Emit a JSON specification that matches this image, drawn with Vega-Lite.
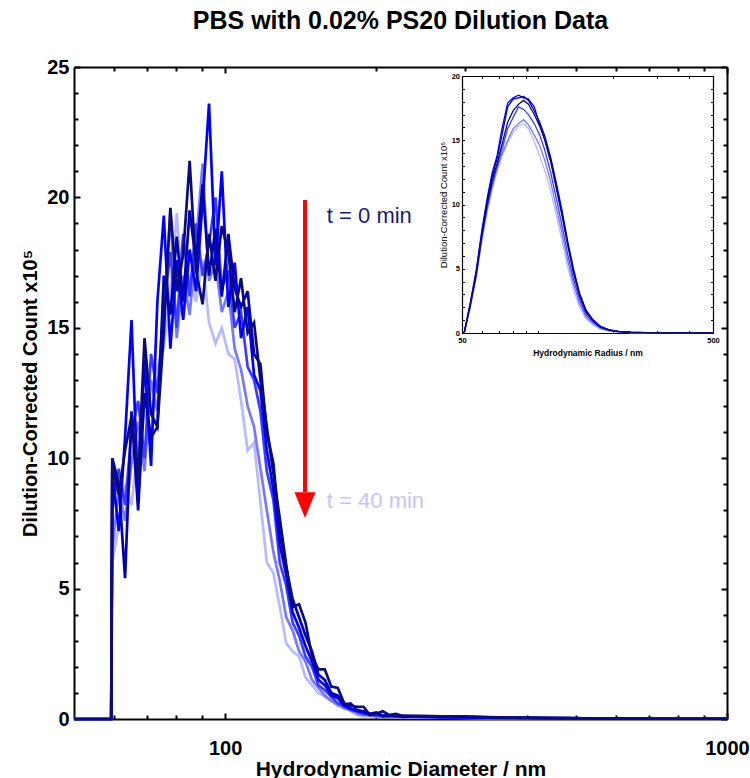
{
"$schema": "https://vega.github.io/schema/vega-lite/v6.json",
"width": 653, "height": 652,
"autosize": {"type": "none"},
"padding": {"left": 74, "top": 67, "right": 23, "bottom": 59},
"config": {"view": {"stroke": null}, "font": "Liberation Sans",
 "axis": {"grid": false, "domainColor": "#000000", "tickColor": "#000000", "labelColor": "#000000", "titleColor": "#000000", "labelFont": "Liberation Sans", "titleFont": "Liberation Sans"}},
"title": {"text": "PBS with 0.02% PS20 Dilution Data", "fontSize": 25, "font": "Liberation Sans", "fontWeight": "bold", "color": "#000000", "offset": 23, "anchor": "middle"},
"datasets": {
"main": [
{"s":"t40","d":50,"v":0},{"s":"t40","d":59.3,"v":0},{"s":"t40","d":59.6,"v":6.0},{"s":"t40","d":61.4,"v":7.4},{"s":"t40","d":63.2,"v":9.0},{"s":"t40","d":65.1,"v":8.2},{"s":"t40","d":67.1,"v":10.5},{"s":"t40","d":69.1,"v":11.8},{"s":"t40","d":71.2,"v":10.8},{"s":"t40","d":73.3,"v":13.5},{"s":"t40","d":75.5,"v":14.2},{"s":"t40","d":77.8,"v":16.3},{"s":"t40","d":80.1,"v":19.4},{"s":"t40","d":82.5,"v":15.8},{"s":"t40","d":85.0,"v":17.0},{"s":"t40","d":87.5,"v":16.0},{"s":"t40","d":90.2,"v":17.6},{"s":"t40","d":92.9,"v":15.2},{"s":"t40","d":95.7,"v":14.4},{"s":"t40","d":98.5,"v":15.0},{"s":"t40","d":101.5,"v":14.0},{"s":"t40","d":104.5,"v":13.8},{"s":"t40","d":107.6,"v":12.2},{"s":"t40","d":110.9,"v":10.3},{"s":"t40","d":114.2,"v":10.6},{"s":"t40","d":117.6,"v":8.3},{"s":"t40","d":121.1,"v":6.0},{"s":"t40","d":124.8,"v":5.6},{"s":"t40","d":128.5,"v":4.3},{"s":"t40","d":132.4,"v":2.9},{"s":"t40","d":136.3,"v":2.6},{"s":"t40","d":140.4,"v":2.4},{"s":"t40","d":144.6,"v":1.6},{"s":"t40","d":149.0,"v":1.3},{"s":"t40","d":153.4,"v":1.0},{"s":"t40","d":158.0,"v":0.86},{"s":"t40","d":162.8,"v":0.7},{"s":"t40","d":167.7,"v":0.5},{"s":"t40","d":172.7,"v":0.47},{"s":"t40","d":177.9,"v":0.3},{"s":"t40","d":183.2,"v":0.15},{"s":"t40","d":188.7,"v":0.1},{"s":"t40","d":194.4,"v":0.12},{"s":"t40","d":200.2,"v":0.08},{"s":"t40","d":206.2,"v":0.1},{"s":"t40","d":212.4,"v":0.07},{"s":"t40","d":218.8,"v":0.08},{"s":"t40","d":225.3,"v":0.06},{"s":"t40","d":245,"v":0.05},{"s":"t40","d":270,"v":0.05},{"s":"t40","d":300,"v":0.04},{"s":"t40","d":335,"v":0.03},{"s":"t40","d":375,"v":0.03},{"s":"t40","d":420,"v":0.02},{"s":"t40","d":480,"v":0.02},{"s":"t40","d":560,"v":0.01},{"s":"t40","d":660,"v":0.01},{"s":"t40","d":780,"v":0.01},{"s":"t40","d":900,"v":0.01},{"s":"t40","d":1000,"v":0.01},
{"s":"t32","d":50,"v":0},{"s":"t32","d":59.3,"v":0},{"s":"t32","d":59.6,"v":6.5},{"s":"t32","d":61.4,"v":8.8},{"s":"t32","d":63.2,"v":7.6},{"s":"t32","d":65.1,"v":9.8},{"s":"t32","d":67.1,"v":11.4},{"s":"t32","d":69.1,"v":9.5},{"s":"t32","d":71.2,"v":13.0},{"s":"t32","d":73.3,"v":11.8},{"s":"t32","d":75.5,"v":15.2},{"s":"t32","d":77.8,"v":19.5},{"s":"t32","d":80.1,"v":14.6},{"s":"t32","d":82.5,"v":17.0},{"s":"t32","d":85.0,"v":15.5},{"s":"t32","d":87.5,"v":18.2},{"s":"t32","d":90.2,"v":21.3},{"s":"t32","d":92.9,"v":16.8},{"s":"t32","d":95.7,"v":17.5},{"s":"t32","d":98.5,"v":15.6},{"s":"t32","d":101.5,"v":16.4},{"s":"t32","d":104.5,"v":14.2},{"s":"t32","d":107.6,"v":13.4},{"s":"t32","d":110.9,"v":12.0},{"s":"t32","d":114.2,"v":11.2},{"s":"t32","d":117.6,"v":9.6},{"s":"t32","d":121.1,"v":8.0},{"s":"t32","d":124.8,"v":6.4},{"s":"t32","d":128.5,"v":5.3},{"s":"t32","d":132.4,"v":3.9},{"s":"t32","d":136.3,"v":3.4},{"s":"t32","d":140.4,"v":2.6},{"s":"t32","d":144.6,"v":2.2},{"s":"t32","d":149.0,"v":1.5},{"s":"t32","d":153.4,"v":1.2},{"s":"t32","d":158.0,"v":0.9},{"s":"t32","d":162.8,"v":0.7},{"s":"t32","d":167.7,"v":0.55},{"s":"t32","d":172.7,"v":0.4},{"s":"t32","d":177.9,"v":0.35},{"s":"t32","d":183.2,"v":0.2},{"s":"t32","d":188.7,"v":0.15},{"s":"t32","d":194.4,"v":0.15},{"s":"t32","d":200.2,"v":0.1},{"s":"t32","d":206.2,"v":0.12},{"s":"t32","d":212.4,"v":0.08},{"s":"t32","d":218.8,"v":0.1},{"s":"t32","d":225.3,"v":0.07},{"s":"t32","d":245,"v":0.06},{"s":"t32","d":270,"v":0.05},{"s":"t32","d":300,"v":0.05},{"s":"t32","d":335,"v":0.04},{"s":"t32","d":375,"v":0.03},{"s":"t32","d":420,"v":0.02},{"s":"t32","d":480,"v":0.02},{"s":"t32","d":560,"v":0.02},{"s":"t32","d":660,"v":0.01},{"s":"t32","d":780,"v":0.01},{"s":"t32","d":900,"v":0.01},{"s":"t32","d":1000,"v":0.01},
{"s":"t24","d":50,"v":0},{"s":"t24","d":59.3,"v":0},{"s":"t24","d":59.6,"v":8.0},{"s":"t24","d":61.4,"v":9.6},{"s":"t24","d":63.2,"v":8.2},{"s":"t24","d":65.1,"v":11.0},{"s":"t24","d":67.1,"v":12.2},{"s":"t24","d":69.1,"v":10.0},{"s":"t24","d":71.2,"v":14.0},{"s":"t24","d":73.3,"v":12.5},{"s":"t24","d":75.5,"v":15.8},{"s":"t24","d":77.8,"v":17.9},{"s":"t24","d":80.1,"v":15.0},{"s":"t24","d":82.5,"v":18.6},{"s":"t24","d":85.0,"v":16.2},{"s":"t24","d":87.5,"v":19.0},{"s":"t24","d":90.2,"v":17.0},{"s":"t24","d":92.9,"v":18.2},{"s":"t24","d":95.7,"v":20.0},{"s":"t24","d":98.5,"v":16.5},{"s":"t24","d":101.5,"v":17.2},{"s":"t24","d":104.5,"v":15.0},{"s":"t24","d":107.6,"v":15.6},{"s":"t24","d":110.9,"v":13.5},{"s":"t24","d":114.2,"v":13.0},{"s":"t24","d":117.6,"v":11.8},{"s":"t24","d":121.1,"v":9.5},{"s":"t24","d":124.8,"v":8.4},{"s":"t24","d":128.5,"v":6.0},{"s":"t24","d":132.4,"v":5.1},{"s":"t24","d":136.3,"v":3.7},{"s":"t24","d":140.4,"v":3.2},{"s":"t24","d":144.6,"v":2.4},{"s":"t24","d":149.0,"v":2.0},{"s":"t24","d":153.4,"v":1.3},{"s":"t24","d":158.0,"v":1.1},{"s":"t24","d":162.8,"v":0.85},{"s":"t24","d":167.7,"v":0.6},{"s":"t24","d":172.7,"v":0.5},{"s":"t24","d":177.9,"v":0.35},{"s":"t24","d":183.2,"v":0.3},{"s":"t24","d":188.7,"v":0.2},{"s":"t24","d":194.4,"v":0.2},{"s":"t24","d":200.2,"v":0.12},{"s":"t24","d":206.2,"v":0.15},{"s":"t24","d":212.4,"v":0.1},{"s":"t24","d":218.8,"v":0.1},{"s":"t24","d":225.3,"v":0.1},{"s":"t24","d":245,"v":0.08},{"s":"t24","d":270,"v":0.06},{"s":"t24","d":300,"v":0.05},{"s":"t24","d":335,"v":0.04},{"s":"t24","d":375,"v":0.03},{"s":"t24","d":420,"v":0.03},{"s":"t24","d":480,"v":0.02},{"s":"t24","d":560,"v":0.02},{"s":"t24","d":660,"v":0.01},{"s":"t24","d":780,"v":0.01},{"s":"t24","d":900,"v":0.01},{"s":"t24","d":1000,"v":0.01},
{"s":"t16","d":50,"v":0},{"s":"t16","d":59.3,"v":0},{"s":"t16","d":59.6,"v":9.5},{"s":"t16","d":61.4,"v":7.2},{"s":"t16","d":63.2,"v":10.8},{"s":"t16","d":65.1,"v":15.3},{"s":"t16","d":67.1,"v":8.4},{"s":"t16","d":69.1,"v":13.8},{"s":"t16","d":71.2,"v":9.7},{"s":"t16","d":73.3,"v":16.0},{"s":"t16","d":75.5,"v":19.3},{"s":"t16","d":77.8,"v":14.2},{"s":"t16","d":80.1,"v":17.6},{"s":"t16","d":82.5,"v":15.3},{"s":"t16","d":85.0,"v":18.0},{"s":"t16","d":87.5,"v":16.4},{"s":"t16","d":90.2,"v":19.8},{"s":"t16","d":92.9,"v":23.6},{"s":"t16","d":95.7,"v":17.4},{"s":"t16","d":98.5,"v":21.0},{"s":"t16","d":101.5,"v":15.8},{"s":"t16","d":104.5,"v":17.5},{"s":"t16","d":107.6,"v":14.6},{"s":"t16","d":110.9,"v":15.8},{"s":"t16","d":114.2,"v":13.2},{"s":"t16","d":117.6,"v":12.6},{"s":"t16","d":121.1,"v":10.3},{"s":"t16","d":124.8,"v":8.8},{"s":"t16","d":128.5,"v":6.7},{"s":"t16","d":132.4,"v":5.5},{"s":"t16","d":136.3,"v":4.1},{"s":"t16","d":140.4,"v":3.5},{"s":"t16","d":144.6,"v":2.8},{"s":"t16","d":149.0,"v":2.2},{"s":"t16","d":153.4,"v":1.5},{"s":"t16","d":158.0,"v":1.3},{"s":"t16","d":162.8,"v":0.9},{"s":"t16","d":167.7,"v":0.8},{"s":"t16","d":172.7,"v":0.5},{"s":"t16","d":177.9,"v":0.4},{"s":"t16","d":183.2,"v":0.3},{"s":"t16","d":188.7,"v":0.25},{"s":"t16","d":194.4,"v":0.15},{"s":"t16","d":200.2,"v":0.2},{"s":"t16","d":206.2,"v":0.1},{"s":"t16","d":212.4,"v":0.12},{"s":"t16","d":218.8,"v":0.15},{"s":"t16","d":225.3,"v":0.08},{"s":"t16","d":245,"v":0.1},{"s":"t16","d":270,"v":0.07},{"s":"t16","d":300,"v":0.06},{"s":"t16","d":335,"v":0.05},{"s":"t16","d":375,"v":0.04},{"s":"t16","d":420,"v":0.03},{"s":"t16","d":480,"v":0.03},{"s":"t16","d":560,"v":0.02},{"s":"t16","d":660,"v":0.01},{"s":"t16","d":780,"v":0.01},{"s":"t16","d":900,"v":0.01},{"s":"t16","d":1000,"v":0.01},
{"s":"t8","d":50,"v":0},{"s":"t8","d":59.3,"v":0},{"s":"t8","d":59.6,"v":10.0},{"s":"t8","d":61.4,"v":9.0},{"s":"t8","d":63.2,"v":5.4},{"s":"t8","d":65.1,"v":11.8},{"s":"t8","d":67.1,"v":8.0},{"s":"t8","d":69.1,"v":12.5},{"s":"t8","d":71.2,"v":10.8},{"s":"t8","d":73.3,"v":11.2},{"s":"t8","d":75.5,"v":17.0},{"s":"t8","d":77.8,"v":15.5},{"s":"t8","d":80.1,"v":18.5},{"s":"t8","d":82.5,"v":16.0},{"s":"t8","d":85.0,"v":19.5},{"s":"t8","d":87.5,"v":17.5},{"s":"t8","d":90.2,"v":20.5},{"s":"t8","d":92.9,"v":17.0},{"s":"t8","d":95.7,"v":18.8},{"s":"t8","d":98.5,"v":16.2},{"s":"t8","d":101.5,"v":18.6},{"s":"t8","d":104.5,"v":16.5},{"s":"t8","d":107.6,"v":15.8},{"s":"t8","d":110.9,"v":16.4},{"s":"t8","d":114.2,"v":14.0},{"s":"t8","d":117.6,"v":13.6},{"s":"t8","d":121.1,"v":11.0},{"s":"t8","d":124.8,"v":9.8},{"s":"t8","d":128.5,"v":7.2},{"s":"t8","d":132.4,"v":5.8},{"s":"t8","d":136.3,"v":4.6},{"s":"t8","d":140.4,"v":3.9},{"s":"t8","d":144.6,"v":3.2},{"s":"t8","d":149.0,"v":2.6},{"s":"t8","d":153.4,"v":1.7},{"s":"t8","d":158.0,"v":1.5},{"s":"t8","d":162.8,"v":1.0},{"s":"t8","d":167.7,"v":0.9},{"s":"t8","d":172.7,"v":0.55},{"s":"t8","d":177.9,"v":0.6},{"s":"t8","d":183.2,"v":0.35},{"s":"t8","d":188.7,"v":0.3},{"s":"t8","d":194.4,"v":0.2},{"s":"t8","d":200.2,"v":0.25},{"s":"t8","d":206.2,"v":0.12},{"s":"t8","d":212.4,"v":0.15},{"s":"t8","d":218.8,"v":0.1},{"s":"t8","d":225.3,"v":0.12},{"s":"t8","d":245,"v":0.1},{"s":"t8","d":270,"v":0.08},{"s":"t8","d":300,"v":0.08},{"s":"t8","d":335,"v":0.06},{"s":"t8","d":375,"v":0.05},{"s":"t8","d":420,"v":0.04},{"s":"t8","d":480,"v":0.03},{"s":"t8","d":560,"v":0.02},{"s":"t8","d":660,"v":0.02},{"s":"t8","d":780,"v":0.01},{"s":"t8","d":900,"v":0.01},{"s":"t8","d":1000,"v":0.01},
{"s":"t0","d":50,"v":0},{"s":"t0","d":59.3,"v":0},{"s":"t0","d":59.6,"v":9.8},{"s":"t0","d":61.4,"v":8.6},{"s":"t0","d":63.2,"v":10.3},{"s":"t0","d":65.1,"v":11.6},{"s":"t0","d":67.1,"v":9.2},{"s":"t0","d":69.1,"v":14.6},{"s":"t0","d":71.2,"v":11.7},{"s":"t0","d":73.3,"v":11.2},{"s":"t0","d":75.5,"v":14.8},{"s":"t0","d":77.8,"v":19.6},{"s":"t0","d":80.1,"v":16.4},{"s":"t0","d":82.5,"v":17.8},{"s":"t0","d":85.0,"v":21.4},{"s":"t0","d":87.5,"v":17.2},{"s":"t0","d":90.2,"v":15.9},{"s":"t0","d":92.9,"v":18.6},{"s":"t0","d":95.7,"v":16.8},{"s":"t0","d":98.5,"v":18.9},{"s":"t0","d":101.5,"v":17.9},{"s":"t0","d":104.5,"v":15.6},{"s":"t0","d":107.6,"v":16.9},{"s":"t0","d":110.9,"v":14.8},{"s":"t0","d":114.2,"v":15.2},{"s":"t0","d":117.6,"v":13.0},{"s":"t0","d":121.1,"v":11.2},{"s":"t0","d":124.8,"v":9.4},{"s":"t0","d":128.5,"v":7.7},{"s":"t0","d":132.4,"v":5.9},{"s":"t0","d":136.3,"v":4.3},{"s":"t0","d":140.4,"v":4.4},{"s":"t0","d":144.6,"v":3.7},{"s":"t0","d":149.0,"v":2.4},{"s":"t0","d":153.4,"v":1.9},{"s":"t0","d":158.0,"v":1.9},{"s":"t0","d":162.8,"v":1.24},{"s":"t0","d":167.7,"v":1.19},{"s":"t0","d":172.7,"v":0.6},{"s":"t0","d":177.9,"v":0.5},{"s":"t0","d":183.2,"v":0.47},{"s":"t0","d":188.7,"v":0.47},{"s":"t0","d":194.4,"v":0.15},{"s":"t0","d":200.2,"v":0.2},{"s":"t0","d":206.2,"v":0.3},{"s":"t0","d":212.4,"v":0.15},{"s":"t0","d":218.8,"v":0.2},{"s":"t0","d":225.3,"v":0.12},{"s":"t0","d":245,"v":0.12},{"s":"t0","d":270,"v":0.1},{"s":"t0","d":300,"v":0.1},{"s":"t0","d":335,"v":0.07},{"s":"t0","d":375,"v":0.05},{"s":"t0","d":420,"v":0.04},{"s":"t0","d":480,"v":0.03},{"s":"t0","d":560,"v":0.02},{"s":"t0","d":660,"v":0.02},{"s":"t0","d":780,"v":0.01},{"s":"t0","d":900,"v":0.01},{"s":"t0","d":1000,"v":0.01}
],
"inset": [
{"s":"t40","d":50,"v":0},{"s":"t40","d":51,"v":0},{"s":"t40","d":54,"v":2.0},{"s":"t40","d":57,"v":4.3},{"s":"t40","d":60,"v":7.1},{"s":"t40","d":63,"v":9.4},{"s":"t40","d":66,"v":11.2},{"s":"t40","d":69,"v":12.6},{"s":"t40","d":72,"v":13.7},{"s":"t40","d":76,"v":14.8},{"s":"t40","d":80,"v":15.6},{"s":"t40","d":84,"v":16.1},{"s":"t40","d":88,"v":16.3},{"s":"t40","d":92,"v":15.9},{"s":"t40","d":97,"v":14.9},{"s":"t40","d":102,"v":13.8},{"s":"t40","d":107,"v":12.6},{"s":"t40","d":113,"v":11.0},{"s":"t40","d":119,"v":9.1},{"s":"t40","d":125,"v":7.2},{"s":"t40","d":132,"v":5.1},{"s":"t40","d":139,"v":3.4},{"s":"t40","d":147,"v":2.0},{"s":"t40","d":156,"v":1.1},{"s":"t40","d":166,"v":0.65},{"s":"t40","d":178,"v":0.3},{"s":"t40","d":192,"v":0.15},{"s":"t40","d":210,"v":0.07},{"s":"t40","d":235,"v":0.03},{"s":"t40","d":270,"v":0.02},{"s":"t40","d":320,"v":0.01},{"s":"t40","d":400,"v":0.01},{"s":"t40","d":500,"v":0},
{"s":"t32","d":50,"v":0},{"s":"t32","d":51,"v":0},{"s":"t32","d":54,"v":2.1},{"s":"t32","d":57,"v":4.4},{"s":"t32","d":60,"v":7.3},{"s":"t32","d":63,"v":9.6},{"s":"t32","d":66,"v":11.4},{"s":"t32","d":69,"v":12.8},{"s":"t32","d":72,"v":13.9},{"s":"t32","d":76,"v":15.0},{"s":"t32","d":80,"v":15.9},{"s":"t32","d":84,"v":16.3},{"s":"t32","d":88,"v":16.6},{"s":"t32","d":92,"v":16.2},{"s":"t32","d":97,"v":15.4},{"s":"t32","d":102,"v":14.6},{"s":"t32","d":107,"v":13.4},{"s":"t32","d":113,"v":11.7},{"s":"t32","d":119,"v":9.7},{"s":"t32","d":125,"v":7.8},{"s":"t32","d":132,"v":5.6},{"s":"t32","d":139,"v":3.8},{"s":"t32","d":147,"v":2.3},{"s":"t32","d":156,"v":1.25},{"s":"t32","d":166,"v":0.75},{"s":"t32","d":178,"v":0.36},{"s":"t32","d":192,"v":0.18},{"s":"t32","d":210,"v":0.08},{"s":"t32","d":235,"v":0.04},{"s":"t32","d":270,"v":0.02},{"s":"t32","d":320,"v":0.01},{"s":"t32","d":400,"v":0.01},{"s":"t32","d":500,"v":0},
{"s":"t24","d":50,"v":0},{"s":"t24","d":51,"v":0},{"s":"t24","d":54,"v":2.2},{"s":"t24","d":57,"v":4.6},{"s":"t24","d":60,"v":7.5},{"s":"t24","d":63,"v":9.9},{"s":"t24","d":66,"v":11.6},{"s":"t24","d":69,"v":13.0},{"s":"t24","d":72,"v":14.2},{"s":"t24","d":76,"v":15.9},{"s":"t24","d":80,"v":16.8},{"s":"t24","d":84,"v":17.6},{"s":"t24","d":88,"v":17.4},{"s":"t24","d":92,"v":17.0},{"s":"t24","d":97,"v":16.3},{"s":"t24","d":102,"v":15.4},{"s":"t24","d":107,"v":14.2},{"s":"t24","d":113,"v":12.4},{"s":"t24","d":119,"v":10.4},{"s":"t24","d":125,"v":8.4},{"s":"t24","d":132,"v":6.1},{"s":"t24","d":139,"v":4.2},{"s":"t24","d":147,"v":2.6},{"s":"t24","d":156,"v":1.4},{"s":"t24","d":166,"v":0.85},{"s":"t24","d":178,"v":0.42},{"s":"t24","d":192,"v":0.2},{"s":"t24","d":210,"v":0.1},{"s":"t24","d":235,"v":0.05},{"s":"t24","d":270,"v":0.03},{"s":"t24","d":320,"v":0.01},{"s":"t24","d":400,"v":0.01},{"s":"t24","d":500,"v":0},
{"s":"t16","d":50,"v":0},{"s":"t16","d":51,"v":0},{"s":"t16","d":54,"v":2.4},{"s":"t16","d":57,"v":4.9},{"s":"t16","d":60,"v":8.0},{"s":"t16","d":63,"v":10.5},{"s":"t16","d":66,"v":12.5},{"s":"t16","d":69,"v":13.8},{"s":"t16","d":72,"v":15.8},{"s":"t16","d":76,"v":17.9},{"s":"t16","d":80,"v":18.3},{"s":"t16","d":84,"v":18.5},{"s":"t16","d":88,"v":18.3},{"s":"t16","d":92,"v":18.2},{"s":"t16","d":97,"v":17.6},{"s":"t16","d":102,"v":16.2},{"s":"t16","d":107,"v":15.0},{"s":"t16","d":113,"v":13.3},{"s":"t16","d":119,"v":11.2},{"s":"t16","d":125,"v":9.2},{"s":"t16","d":132,"v":6.8},{"s":"t16","d":139,"v":4.7},{"s":"t16","d":147,"v":2.9},{"s":"t16","d":156,"v":1.6},{"s":"t16","d":166,"v":0.95},{"s":"t16","d":178,"v":0.48},{"s":"t16","d":192,"v":0.24},{"s":"t16","d":210,"v":0.11},{"s":"t16","d":235,"v":0.05},{"s":"t16","d":270,"v":0.03},{"s":"t16","d":320,"v":0.02},{"s":"t16","d":400,"v":0.01},{"s":"t16","d":500,"v":0},
{"s":"t8","d":50,"v":0},{"s":"t8","d":51,"v":0},{"s":"t8","d":54,"v":2.3},{"s":"t8","d":57,"v":4.8},{"s":"t8","d":60,"v":7.8},{"s":"t8","d":63,"v":10.3},{"s":"t8","d":66,"v":12.2},{"s":"t8","d":69,"v":13.6},{"s":"t8","d":72,"v":15.3},{"s":"t8","d":76,"v":17.6},{"s":"t8","d":80,"v":18.2},{"s":"t8","d":84,"v":18.3},{"s":"t8","d":88,"v":18.4},{"s":"t8","d":92,"v":18.1},{"s":"t8","d":97,"v":17.3},{"s":"t8","d":102,"v":16.4},{"s":"t8","d":107,"v":15.3},{"s":"t8","d":113,"v":13.6},{"s":"t8","d":119,"v":11.6},{"s":"t8","d":125,"v":9.6},{"s":"t8","d":132,"v":7.1},{"s":"t8","d":139,"v":5.0},{"s":"t8","d":147,"v":3.1},{"s":"t8","d":156,"v":1.8},{"s":"t8","d":166,"v":1.05},{"s":"t8","d":178,"v":0.52},{"s":"t8","d":192,"v":0.26},{"s":"t8","d":210,"v":0.12},{"s":"t8","d":235,"v":0.06},{"s":"t8","d":270,"v":0.03},{"s":"t8","d":320,"v":0.02},{"s":"t8","d":400,"v":0.01},{"s":"t8","d":500,"v":0},
{"s":"t0","d":50,"v":0},{"s":"t0","d":51,"v":0},{"s":"t0","d":54,"v":2.2},{"s":"t0","d":57,"v":4.6},{"s":"t0","d":60,"v":7.6},{"s":"t0","d":63,"v":10.0},{"s":"t0","d":66,"v":11.9},{"s":"t0","d":69,"v":13.2},{"s":"t0","d":72,"v":14.6},{"s":"t0","d":76,"v":16.4},{"s":"t0","d":80,"v":17.3},{"s":"t0","d":84,"v":17.8},{"s":"t0","d":88,"v":18.1},{"s":"t0","d":92,"v":17.8},{"s":"t0","d":97,"v":17.0},{"s":"t0","d":102,"v":16.1},{"s":"t0","d":107,"v":15.0},{"s":"t0","d":113,"v":13.3},{"s":"t0","d":119,"v":11.3},{"s":"t0","d":125,"v":9.3},{"s":"t0","d":132,"v":6.9},{"s":"t0","d":139,"v":4.8},{"s":"t0","d":147,"v":3.0},{"s":"t0","d":156,"v":1.7},{"s":"t0","d":166,"v":1.0},{"s":"t0","d":178,"v":0.5},{"s":"t0","d":192,"v":0.25},{"s":"t0","d":210,"v":0.12},{"s":"t0","d":235,"v":0.06},{"s":"t0","d":270,"v":0.03},{"s":"t0","d":320,"v":0.02},{"s":"t0","d":400,"v":0.01},{"s":"t0","d":500,"v":0}
],
"shaft": [{"d":144.3,"v":19.9,"v2":8.7}],
"head": [{"d":144.3,"v":8.2}],
"labels": [{"label":"t = 0 min","d":159.5,"v":19.3},{"label":"t = 40 min","d":159.5,"v":8.36}]
},
"layer": [
{
 "data": {"name": "main"},
 "mark": {"type": "line", "strokeWidth": 2.7},
 "encoding": {
  "x": {"field": "d", "type": "quantitative",
   "scale": {"type": "log", "domain": [50, 1000], "nice": false},
   "axis": {"orient": "bottom", "title": "Hydrodynamic Diameter / nm",
    "values": [60,70,80,90,100,200,300,400,500,600,700,800,900,1000], "format": "d",
    "labelExpr": "(datum.value == 100 || datum.value == 1000) ? datum.label : ''",
    "tickSize": {"condition": {"test": "datum.value == 100 || datum.value == 1000", "value": -6}, "value": -4},
    "tickWidth": 2, "domainWidth": 2, "labelFontSize": 20, "labelFontWeight": "bold", "labelPadding": 25,
    "labelFlush": false, "labelOverlap": false,
    "titleFontSize": 21, "titleFontWeight": "bold", "titlePadding": -2}},
  "y": {"field": "v", "type": "quantitative",
   "scale": {"domain": [0, 25], "nice": false, "zero": false},
   "axis": {"orient": "left", "title": "Dilution-Corrected Count x10⁵",
    "values": [0,1,2,3,4,5,6,7,8,9,10,11,12,13,14,15,16,17,18,19,20,21,22,23,24,25],
    "labelExpr": "datum.value % 5 == 0 ? datum.label : ''",
    "tickSize": {"condition": {"test": "datum.value % 5 == 0", "value": -6}, "value": -4},
    "tickWidth": 2, "domainWidth": 2, "labelFontSize": 20, "labelFontWeight": "bold", "labelPadding": 11,
    "labelOverlap": false, "labelFlush": false,
    "titleFontSize": 20, "titleFontWeight": "bold", "titlePadding": 6}},
  "color": {"field": "s", "type": "nominal",
   "scale": {"domain": ["t0","t8","t16","t24","t32","t40"], "range": ["#0c0c78","#0000b4","#0000ff","#3c3cff","#7878ff","#b9b9ff"]},
   "legend": null}
 }
},
{
 "data": {"name": "shaft"},
 "mark": {"type": "rule", "color": "#ff0000", "strokeWidth": 4},
 "encoding": {
  "x": {"field": "d", "type": "quantitative",
   "scale": {"type": "log", "domain": [50, 1000], "nice": false},
   "axis": {"orient": "top", "title": null, "labels": false,
    "values": [60,70,80,90,100,200,300,400,500,600,700,800,900,1000],
    "tickSize": {"condition": {"test": "datum.value == 100 || datum.value == 1000", "value": -6}, "value": -4},
    "tickWidth": 2, "domainWidth": 2}},
  "y": {"field": "v", "type": "quantitative",
   "scale": {"domain": [0, 25], "nice": false, "zero": false},
   "axis": {"orient": "right", "title": null, "labels": false,
    "values": [0,1,2,3,4,5,6,7,8,9,10,11,12,13,14,15,16,17,18,19,20,21,22,23,24,25],
    "tickSize": {"condition": {"test": "datum.value % 5 == 0", "value": -6}, "value": -4},
    "tickWidth": 2, "domainWidth": 2}},
  "y2": {"field": "v2"}
 }
},
{
 "data": {"name": "head"},
 "mark": {"type": "point", "shape": "M-1,-1.22L1,-1.22L0,1.22Z", "filled": true, "color": "#ff0000", "opacity": 1, "size": 441, "strokeWidth": 0},
 "encoding": {
  "x": {"field": "d", "type": "quantitative", "scale": {"type": "log", "domain": [50, 1000], "nice": false}, "axis": null},
  "y": {"field": "v", "type": "quantitative", "scale": {"domain": [0, 25], "nice": false, "zero": false}, "axis": null}
 }
},
{
 "data": {"name": "labels"},
 "mark": {"type": "text", "align": "left", "baseline": "middle", "fontSize": 22, "font": "Liberation Sans"},
 "encoding": {
  "x": {"field": "d", "type": "quantitative", "scale": {"type": "log", "domain": [50, 1000], "nice": false}, "axis": null},
  "y": {"field": "v", "type": "quantitative", "scale": {"domain": [0, 25], "nice": false, "zero": false}, "axis": null},
  "text": {"field": "label"},
  "color": {"field": "label", "type": "nominal", "scale": {"domain": ["t = 0 min", "t = 40 min"], "range": ["#1a1a80", "#c4c4ff"]}, "legend": null}
 }
},
{
 "data": {"name": "inset"},
 "mark": {"type": "line", "strokeWidth": 1.3},
 "encoding": {
  "x": {"field": "d", "type": "quantitative",
   "scale": {"type": "log", "domain": [50, 500], "range": [388, 639], "nice": false},
   "axis": {"orient": "bottom", "offset": -386, "title": "Hydrodynamic Radius / nm",
    "values": [50,60,70,80,90,100,200,300,400,500], "format": "d",
    "labelExpr": "(datum.value == 50 || datum.value == 500) ? datum.label : ''",
    "tickSize": -2.5, "tickWidth": 1, "domainWidth": 1.2, "labelFontSize": 7.5, "labelFontWeight": "bold", "labelPadding": 6,
    "labelFlush": false, "labelOverlap": false,
    "titleFontSize": 8.5, "titleFontWeight": "bold", "titlePadding": 4}},
  "y": {"field": "v", "type": "quantitative",
   "scale": {"domain": [0, 20], "range": [266, 9], "nice": false, "zero": false},
   "axis": {"orient": "left", "offset": -388, "title": "Dilution-Corrected Count x10⁵",
    "values": [0,1,2,3,4,5,6,7,8,9,10,11,12,13,14,15,16,17,18,19,20],
    "labelExpr": "datum.value % 5 == 0 ? datum.label : ''",
    "tickSize": -2.5, "tickWidth": 1, "domainWidth": 1.2, "labelFontSize": 7.5, "labelFontWeight": "bold", "labelPadding": 5,
    "labelOverlap": false, "labelFlush": false,
    "titleFontSize": 9.5, "titleFontWeight": "normal", "titlePadding": 3}},
  "color": {"field": "s", "type": "nominal",
   "scale": {"domain": ["t0","t8","t16","t24","t32","t40"], "range": ["#0c0c78","#0000b4","#0000ff","#3c3cff","#7878ff","#b9b9ff"]},
   "legend": null}
 }
},
{
 "data": {"name": "inset"},
 "mark": {"type": "line", "strokeOpacity": 0},
 "encoding": {
  "x": {"field": "d", "type": "quantitative",
   "scale": {"type": "log", "domain": [50, 500], "range": [388, 639], "nice": false},
   "axis": {"orient": "top", "offset": -9, "title": null, "labels": false,
    "values": [50,60,70,80,90,100,200,300,400,500],
    "tickSize": -2.5, "tickWidth": 1, "domainWidth": 1.2}},
  "y": {"field": "v", "type": "quantitative",
   "scale": {"domain": [0, 20], "range": [266, 9], "nice": false, "zero": false},
   "axis": {"orient": "right", "offset": -14, "title": null, "labels": false,
    "values": [0,1,2,3,4,5,6,7,8,9,10,11,12,13,14,15,16,17,18,19,20],
    "tickSize": -2.5, "tickWidth": 1, "domainWidth": 1.2}}
 }
}
],
"resolve": {"scale": {"x": "independent", "y": "independent", "color": "independent"}, "axis": {"x": "independent", "y": "independent"}}
}
